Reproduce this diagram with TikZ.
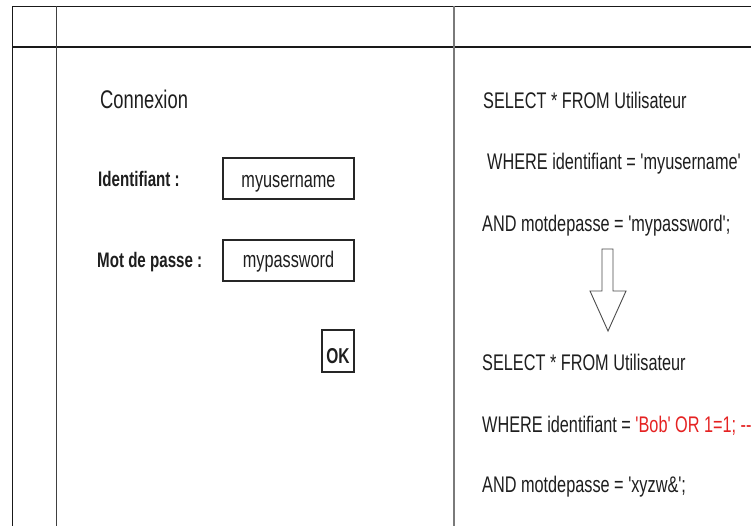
\documentclass[tikz,border=0pt]{standalone}
\usepackage{fontspec}
\setmainfont{Liberation Sans}[FakeStretch=0.72, Ligatures=TeXOff]
\definecolor{ink}{HTML}{1E1E1E}
\definecolor{inject}{HTML}{E52222}
\definecolor{rule}{HTML}{7A7A7A}
\tikzset{
  x=1pt, y=-1pt,
  txt/.style={anchor=base west, inner sep=0pt, text=ink, font=\fontsize{22.6}{26}\selectfont},
  lbl/.style={anchor=base west, inner sep=0pt, text=ink, font=\fontsize{21}{24}\selectfont\bfseries},
  field/.style={draw=black!85, line width=1.1pt, inner sep=0pt},
  grid/.style={line width=1.4pt, draw=black!90},
  softgrid/.style={line width=1.2pt, draw=rule},
}
\begin{document}
\begin{tikzpicture}
\useasboundingbox (0,0) rectangle (751,526);
\clip (0,0) rectangle (751,526);
\fill[white] (0,0) rectangle (751,526);

% table rules
\draw[grid] (12,6.5) -- (751,6.5);
\draw[grid] (12,47) -- (751,47);
\draw[grid] (12.5,6.5) -- (12.5,526);
\draw[grid, draw=black!75] (56.5,6.5) -- (56.5,526);
\draw[softgrid] (454,6.5) -- (454,526);

% login form
\node[txt, font=\fontsize{25.5}{30}\selectfont] (title) at (100,109) {Connexion};
\node[lbl] (idlabel) at (98,187) {Identifiant :};
\node[lbl] (pwlabel) at (97,268) {Mot de passe :};

\draw[field] (223,158) rectangle (354,199);
\node[txt] (iduser) at (288.5,188) [anchor=base] {myusername};
\draw[field] (223,240) rectangle (354,281);
\node[txt] (idpass) at (288.5,268) [anchor=base] {mypassword};

\draw[field] (322,330) rectangle (354,372);
\node[lbl, anchor=base, font=\fontsize{21.5}{24}\selectfont\bfseries] (ok) at (338,363) {OK};

% queries
\node[txt] (q1) at (483,109) {SELECT * FROM Utilisateur};
\node[txt] (q2) at (487,170) {WHERE identifiant = 'myusername'};
\node[txt] (q3) at (482,232) {AND motdepasse = 'mypassword';};

\draw[draw=black!70, line width=0.9pt, fill=white]
  (602,249) -- (613,249) -- (613,291) -- (626,291) -- (608,331)
  -- (590,291) -- (602,291) -- cycle;

\node[txt] (q4) at (482,370) {SELECT * FROM Utilisateur};
\node[txt] (q5) at (482,432) {WHERE identifiant = \textcolor{inject}{'Bob' OR 1=1; -{}-}};
\node[txt] (q6) at (482,492) {AND motdepasse = 'xyzw\&';};
\end{tikzpicture}
\end{document}
